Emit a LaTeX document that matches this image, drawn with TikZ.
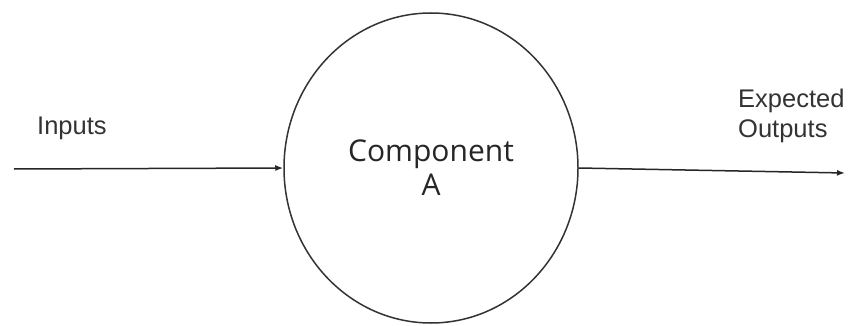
\documentclass[tikz,border=0pt]{standalone}
\usepackage{fontspec}
\setmainfont{Liberation Sans}
\newfontfamily\compfont{Open Sans}
\usetikzlibrary{shapes.geometric,arrows.meta}
\tikzset{
  flow/.style={line width=1.5pt, draw=black!85, -{Latex[length=8pt,width=6pt]}},
  label/.style={inner sep=0pt, text=black!80, font=\fontsize{25.5}{30}\selectfont, align=left},
  unit/.style={ellipse, draw=black!80, line width=1.5pt, inner sep=0pt,
    minimum width=294pt, minimum height=310pt, align=center,
    font=\compfont\fontsize{30}{37}\selectfont, text=black!85}
}
\begin{document}
\begin{tikzpicture}[x=1pt,y=-1pt]
  \useasboundingbox (0,0) rectangle (854,326);
  \fill[white] (0,0) rectangle (854,326);
  % the component
  \node[unit] (A) at (431,168) {Component\\[-3pt]A};
  % input and output
  \coordinate (src) at (14,169);
  \coordinate (dst) at (845,173);
  \draw[flow] (src) -- (A.west);
  \draw[flow] (A.east) -- (dst);
  % labels
  \node[label, anchor=base west] (inp) at (37,135) {Inputs};
  \node[label, anchor=north west] (outp) at (738,89) {Expected\\Outputs};
\end{tikzpicture}
\end{document}
